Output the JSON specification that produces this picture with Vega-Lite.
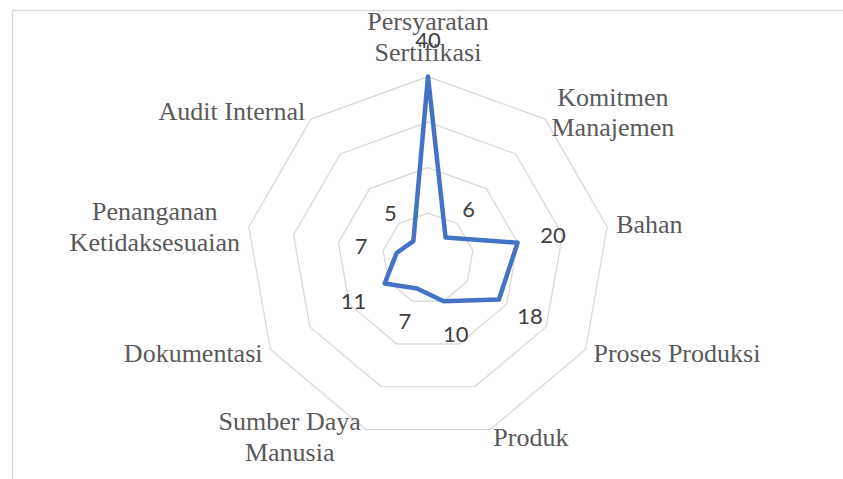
{
  "$schema": "https://vega.github.io/schema/vega-lite/v6.json",
  "width": 831,
  "height": 469,
  "autosize": {"type": "none"},
  "padding": {"left": 12, "top": 10, "right": 0, "bottom": 0},
  "background": "white",
  "config": {"view": {"stroke": null}},
  "data": {"values": [
    {"i": 0, "label": "Persyaratan\nSertifikasi", "value": 40},
    {"i": 1, "label": "Komitmen\nManajemen", "value": 6},
    {"i": 2, "label": "Bahan", "value": 20},
    {"i": 3, "label": "Proses Produksi", "value": 18},
    {"i": 4, "label": "Produk", "value": 10},
    {"i": 5, "label": "Sumber Daya\nManusia", "value": 7},
    {"i": 6, "label": "Dokumentasi", "value": 11},
    {"i": 7, "label": "Penanganan\nKetidaksesuaian", "value": 7},
    {"i": 8, "label": "Audit Internal", "value": 5}
  ]},
  "transform": [
    {"calculate": "datum.i * 2 * PI / 9", "as": "theta"},
    {"calculate": "datum.value * sin(datum.theta)", "as": "px"},
    {"calculate": "datum.value * cos(datum.theta)", "as": "py"},
    {"calculate": "(datum.value + 7.9) * sin(datum.theta)", "as": "lx"},
    {"calculate": "(datum.value + 7.9) * cos(datum.theta)", "as": "ly"},
    {"calculate": "42 * sin(datum.theta)", "as": "cx"},
    {"calculate": "42 * cos(datum.theta)", "as": "cy"},
    {"calculate": "48.6 * sin(datum.theta)", "as": "tx"},
    {"calculate": "48.6 * cos(datum.theta)", "as": "ty"}
  ],
  "layer": [
    {
      "data": {"values": [
        {"i": 0, "r": 10}, {"i": 1, "r": 10}, {"i": 2, "r": 10}, {"i": 3, "r": 10}, {"i": 4, "r": 10}, {"i": 5, "r": 10}, {"i": 6, "r": 10}, {"i": 7, "r": 10}, {"i": 8, "r": 10},
        {"i": 0, "r": 20}, {"i": 1, "r": 20}, {"i": 2, "r": 20}, {"i": 3, "r": 20}, {"i": 4, "r": 20}, {"i": 5, "r": 20}, {"i": 6, "r": 20}, {"i": 7, "r": 20}, {"i": 8, "r": 20},
        {"i": 0, "r": 30}, {"i": 1, "r": 30}, {"i": 2, "r": 30}, {"i": 3, "r": 30}, {"i": 4, "r": 30}, {"i": 5, "r": 30}, {"i": 6, "r": 30}, {"i": 7, "r": 30}, {"i": 8, "r": 30},
        {"i": 0, "r": 40}, {"i": 1, "r": 40}, {"i": 2, "r": 40}, {"i": 3, "r": 40}, {"i": 4, "r": 40}, {"i": 5, "r": 40}, {"i": 6, "r": 40}, {"i": 7, "r": 40}, {"i": 8, "r": 40}
      ]},
      "transform": [
        {"calculate": "datum.i * 2 * PI / 9", "as": "theta"},
        {"calculate": "datum.r * sin(datum.theta)", "as": "gx"},
        {"calculate": "datum.r * cos(datum.theta)", "as": "gy"}
      ],
      "mark": {"type": "line", "interpolate": "linear-closed", "stroke": "#d9d9d9", "strokeWidth": 1.3},
      "encoding": {
        "x": {"field": "gx", "type": "quantitative", "scale": {"domain": [-91.43, 91.21], "nice": false, "zero": false}, "axis": {"orient": "top", "domain": true, "domainColor": "#d9d9d9", "domainWidth": 1.3, "ticks": false, "labels": false, "grid": false, "title": null}},
        "y": {"field": "gy", "type": "quantitative", "scale": {"domain": [-48.46, 54.62], "nice": false, "zero": false}, "axis": {"orient": "left", "domain": true, "domainColor": "#d9d9d9", "domainWidth": 1.3, "ticks": false, "labels": false, "grid": false, "title": null}},
        "detail": {"field": "r", "type": "nominal"},
        "order": {"field": "i", "type": "quantitative"}
      }
    },
    {
      "mark": {"type": "line", "interpolate": "linear-closed", "stroke": "#4472C4", "strokeWidth": 4.5, "strokeJoin": "round"},
      "encoding": {
        "x": {"field": "px", "type": "quantitative", "scale": {"domain": [-91.43, 91.21], "nice": false, "zero": false}, "axis": {"orient": "top", "domain": true, "domainColor": "#d9d9d9", "domainWidth": 1.3, "ticks": false, "labels": false, "grid": false, "title": null}},
        "y": {"field": "py", "type": "quantitative", "scale": {"domain": [-48.46, 54.62], "nice": false, "zero": false}, "axis": {"orient": "left", "domain": true, "domainColor": "#d9d9d9", "domainWidth": 1.3, "ticks": false, "labels": false, "grid": false, "title": null}},
        "order": {"field": "i", "type": "quantitative"}
      }
    },
    {
      "mark": {"type": "text", "font": "Lato", "fontSize": 22, "color": "#404040", "align": "center", "baseline": "middle"},
      "encoding": {
        "x": {"field": "lx", "type": "quantitative"},
        "y": {"field": "ly", "type": "quantitative"},
        "text": {"field": "value", "type": "quantitative"}
      }
    },
    {
      "transform": [{"filter": "datum.i == 0"}],
      "mark": {"type": "text", "font": "Liberation Serif", "fontSize": 26, "color": "#595959", "align": "center", "baseline": "middle", "lineBreak": "\n", "lineHeight": 31, "dy": -15.5},
      "encoding": {
        "x": {"field": "tx", "type": "quantitative"},
        "y": {"field": "ty", "type": "quantitative"},
        "text": {"field": "label"}
      }
    },
    {
      "transform": [{"filter": "datum.i == 1"}],
      "mark": {"type": "text", "font": "Liberation Serif", "fontSize": 26, "color": "#595959", "align": "center", "baseline": "middle", "lineBreak": "\n", "lineHeight": 30, "dx": 62, "dy": -14},
      "encoding": {
        "x": {"field": "cx", "type": "quantitative"},
        "y": {"field": "cy", "type": "quantitative"},
        "text": {"field": "label"}
      }
    },
    {
      "transform": [{"filter": "datum.i >= 2 && datum.i <= 4"}],
      "mark": {"type": "text", "font": "Liberation Serif", "fontSize": 26, "color": "#595959", "align": "left", "baseline": "middle"},
      "encoding": {
        "x": {"field": "cx", "type": "quantitative"},
        "y": {"field": "cy", "type": "quantitative"},
        "text": {"field": "label"}
      }
    },
    {
      "transform": [{"filter": "datum.i == 6 || datum.i == 8"}],
      "mark": {"type": "text", "font": "Liberation Serif", "fontSize": 26, "color": "#595959", "align": "right", "baseline": "middle"},
      "encoding": {
        "x": {"field": "cx", "type": "quantitative"},
        "y": {"field": "cy", "type": "quantitative"},
        "text": {"field": "label"}
      }
    },
    {
      "transform": [{"filter": "datum.i == 5"}],
      "mark": {"type": "text", "font": "Liberation Serif", "fontSize": 26, "color": "#595959", "align": "center", "baseline": "middle", "lineBreak": "\n", "lineHeight": 31, "dx": -73, "dy": -16},
      "encoding": {
        "x": {"field": "cx", "type": "quantitative"},
        "y": {"field": "cy", "type": "quantitative"},
        "text": {"field": "label"}
      }
    },
    {
      "transform": [{"filter": "datum.i == 7"}],
      "mark": {"type": "text", "font": "Liberation Serif", "fontSize": 26, "color": "#595959", "align": "center", "baseline": "middle", "lineBreak": "\n", "lineHeight": 31, "dx": -85, "dy": -13},
      "encoding": {
        "x": {"field": "cx", "type": "quantitative"},
        "y": {"field": "cy", "type": "quantitative"},
        "text": {"field": "label"}
      }
    }
  ]
}
